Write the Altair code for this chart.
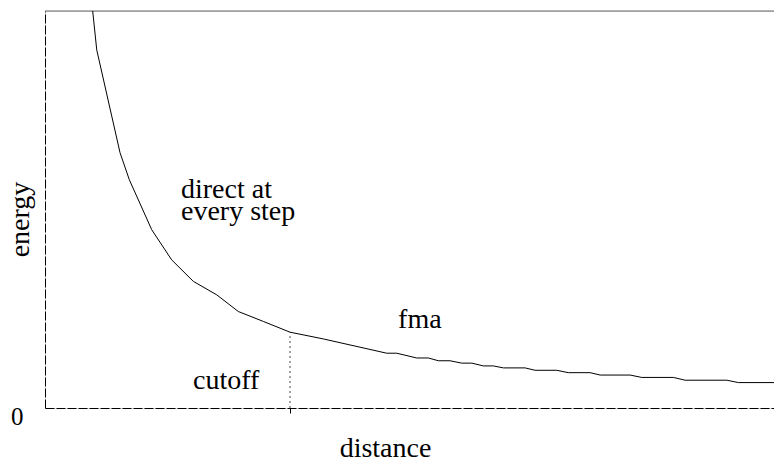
import altair as alt
import pandas as pd

# curve: distance vs energy (arbitrary units)
dist = [6.47, 7.02, 10.18, 11.44, 14.48, 17.19, 20.12, 23.30, 26.23, 29.63, 33.24,
        37.76, 46.36, 47.72, 50.43, 52.01, 53.37, 54.95, 56.54, 57.90, 59.47, 60.83,
        62.19, 65.13, 66.49, 69.43, 71.00, 73.95, 75.31, 79.38, 80.96, 85.25, 86.84,
        92.50, 94.07, 99.82]
energy = [100.0, 90.2, 64.3, 57.5, 44.9, 37.3, 31.9, 28.5, 24.3, 21.8, 19.1,
          17.4, 13.8, 13.8, 12.6, 12.6, 11.9, 11.9, 11.3, 11.3, 10.6, 10.6,
          10.1, 10.1, 9.5, 9.5, 8.9, 8.9, 8.3, 8.3, 7.7, 7.7, 7.0,
          7.0, 6.4, 6.4]

cutoff_x = [33.24]
cutoff_y = [19.1]

label_text = ["direct at\nevery step", "fma", "cutoff"]
label_x = [18.45, 47.9, 20.08]
label_y = [52.9, 20.1, 4.86]

FONT = "Liberation Serif"
W, H = 729, 397

curve = pd.DataFrame({"distance": dist, "energy": energy})
cut = pd.DataFrame({"x": cutoff_x, "y0": [0.0], "y1": cutoff_y})
labels = pd.DataFrame({"t": label_text, "x": label_x, "y": label_y})

xscale = alt.Scale(domain=[0, 98.9], nice=False, zero=False)
yscale = alt.Scale(domain=[0, 100], nice=False, zero=False)

xaxis = alt.Axis(
    title="distance", values=cutoff_x, labels=False, grid=False,
    domainDash=[9, 2], domainColor="#000", domainWidth=1,
    ticks=True, tickSize=5, tickColor="#000", tickWidth=1,
    titleFont=FONT, titleFontSize=28, titleFontWeight="normal", titleColor="#000",
    titleX=340, titleY=48, titleBaseline="alphabetic", titleAlign="center",
)
yaxis = alt.Axis(
    title="energy", values=[0], grid=False, ticks=False, tickSize=0,
    domainDash=[9, 2], domainColor="#000", domainWidth=1,
    labelFont=FONT, labelFontSize=25, labelColor="#000", labelPadding=22,
    labelBaseline="alphabetic", labelOffset=16,
    titleFont=FONT, titleFontSize=28, titleFontWeight="normal", titleColor="#000",
    titleAngle=270, titleX=-17, titleY=208, titleBaseline="alphabetic", titleAlign="center",
)

line = alt.Chart(curve).mark_line(color="#000", strokeWidth=1, clip=True).encode(
    x=alt.X("distance:Q", scale=xscale, axis=xaxis),
    y=alt.Y("energy:Q", scale=yscale, axis=yaxis),
)

cut_rule = alt.Chart(cut).mark_rule(color="#444", strokeWidth=1, strokeDash=[2, 3]).encode(
    x=alt.X("x:Q", scale=xscale),
    y=alt.Y("y0:Q", scale=yscale),
    y2="y1:Q",
)

top_line = alt.Chart(cut).mark_rule(color="#666", strokeWidth=1).encode(
    x=alt.value(0), x2=alt.value(W), y=alt.value(0)
)

text = alt.Chart(labels).mark_text(
    font=FONT, fontSize=28, color="#000", align="left", baseline="alphabetic",
    lineBreak="\n", lineHeight=22,
).encode(
    x=alt.X("x:Q", scale=xscale),
    y=alt.Y("y:Q", scale=yscale),
    text="t:N",
)

chart = alt.layer(top_line, line, cut_rule, text).properties(
    width=W, height=H,
    autosize=alt.AutoSizeParams(type="none"),
    padding={"left": 37, "top": 3, "right": 0, "bottom": 53},
).configure_view(stroke=None).configure(background="white")

chart.save("out.html", embed_options={"renderer": "svg", "actions": False})
